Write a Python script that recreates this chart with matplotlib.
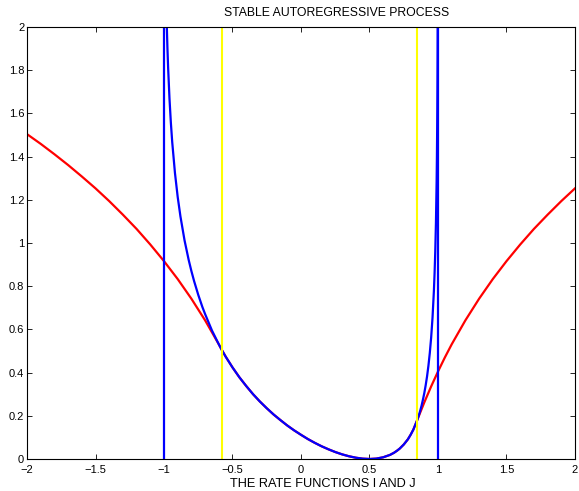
import matplotlib
matplotlib.use("Agg")
import matplotlib.pyplot as plt
import numpy as np

plt.rcParams['font.family'] = ['Liberation Sans', 'DejaVu Sans']

# shared middle part where I and J coincide
x_mid = [-0.58, -0.55, -0.5, -0.45, -0.4, -0.35, -0.3, -0.25, -0.2, -0.15, -0.1, -0.05, 0.0,
         0.05, 0.1, 0.15, 0.2, 0.25, 0.3, 0.35, 0.4, 0.45, 0.5, 0.55, 0.6, 0.65, 0.68, 0.7,
         0.72, 0.75, 0.78, 0.8, 0.82, 0.85]
y_mid = [0.507, 0.474, 0.424, 0.3785, 0.338, 0.300, 0.266, 0.235, 0.206, 0.180, 0.155, 0.1325, 0.112,
         0.0924, 0.075, 0.059, 0.045, 0.0323, 0.0215, 0.0127, 0.006, 0.0016, 0.0, 0.0018, 0.008, 0.0191, 0.0293, 0.038,
         0.0479, 0.067, 0.091, 0.112, 0.136, 0.183]

# rate function I (red) outside the middle part
x_I_left = [-2.0, -1.9, -1.8, -1.7, -1.6, -1.5, -1.4, -1.3, -1.2, -1.1, -1.0, -0.9, -0.8, -0.7, -0.6]
y_I_left = [1.504, 1.459, 1.411, 1.361, 1.308, 1.253, 1.194, 1.131, 1.065, 0.993, 0.916, 0.833, 0.742, 0.642, 0.531]
x_I_right = [0.9, 0.95, 1.0, 1.05, 1.1, 1.2, 1.3, 1.4, 1.5, 1.6, 1.7, 1.8, 1.9, 2.0]
y_I_right = [0.262, 0.336, 0.405, 0.470, 0.531, 0.642, 0.742, 0.833, 0.916, 0.993, 1.065, 1.131, 1.194, 1.253]

# rate function J (blue) outside the middle part, blows up near -1 and 1
x_J_left = [-0.99, -0.985, -0.98, -0.975, -0.97, -0.96, -0.95, -0.94, -0.92, -0.9, -0.88, -0.85,
            -0.82, -0.8, -0.78, -0.75, -0.72, -0.7, -0.65, -0.6]
y_J_left = [2.36, 2.159, 2.015, 1.904, 1.813, 1.669, 1.558, 1.467, 1.324, 1.213, 1.123, 1.012,
            0.922, 0.870, 0.823, 0.760, 0.704, 0.671, 0.595, 0.531]
x_J_right = [0.86, 0.87, 0.88, 0.89, 0.9, 0.91, 0.92, 0.93, 0.94, 0.95, 0.96, 0.97, 0.975,
             0.98, 0.985, 0.99, 0.992, 0.994, 0.995, 0.996, 0.997, 0.998, 0.999]
y_J_right = [0.202, 0.223, 0.247, 0.2745, 0.305, 0.341, 0.382, 0.431, 0.490, 0.562, 0.654, 0.778, 0.859,
             0.960, 1.093, 1.285, 1.392, 1.532, 1.62, 1.730, 1.871, 2.07, 2.416]

blue_lines = [-1.0, 1.0]
yellow_lines = [-0.58, 0.85]

x_I = x_I_left + x_mid + x_I_right
y_I = y_I_left + y_mid + y_I_right
x_J = x_J_left + x_mid + x_J_right
y_J = y_J_left + y_mid + y_J_right

fig = plt.figure(figsize=(5.79, 4.91), dpi=100)
ax = fig.add_axes([27/579, 32/491, 548/579, 432/491])

ax.plot(x_I, y_I, color='red', linewidth=1.6)
ax.plot(x_J, y_J, color='blue', linewidth=1.6)
for xv in blue_lines:
    ax.plot([xv, xv], [0, 2], color='blue', linewidth=1.6)
for xv in yellow_lines:
    ax.plot([xv, xv], [0, 2], color='yellow', linewidth=1.5)

ax.set_xlim(-2, 2)
ax.set_ylim(0, 2)
ax.set_xticks(np.arange(-2, 2.01, 0.5))
ax.set_yticks(np.arange(0, 2.01, 0.2))
ax.set_xticklabels(['\u22122', '\u22121.5', '\u22121', '\u22120.5', '0', '0.5', '1', '1.5', '2'])
ax.set_yticklabels(['0', '0.2', '0.4', '0.6', '0.8', '1', '1.2', '1.4', '1.6', '1.8', '2'])
ax.tick_params(direction='in', top=True, right=True, length=3.5, width=0.6, labelsize=8)
ax.tick_params(axis='x', pad=4.5)
ax.tick_params(axis='y', pad=2)
for s in ax.spines.values():
    s.set_linewidth(0.8)

fig.text(337/579, 1 - 13/491, 'STABLE AUTOREGRESSIVE PROCESS', ha='center', va='center', fontsize=8.8)
fig.text(323/579, 1 - 484/491, 'THE RATE FUNCTIONS I AND J', ha='center', va='center', fontsize=9.2)

fig.savefig('out.png', dpi=100)
